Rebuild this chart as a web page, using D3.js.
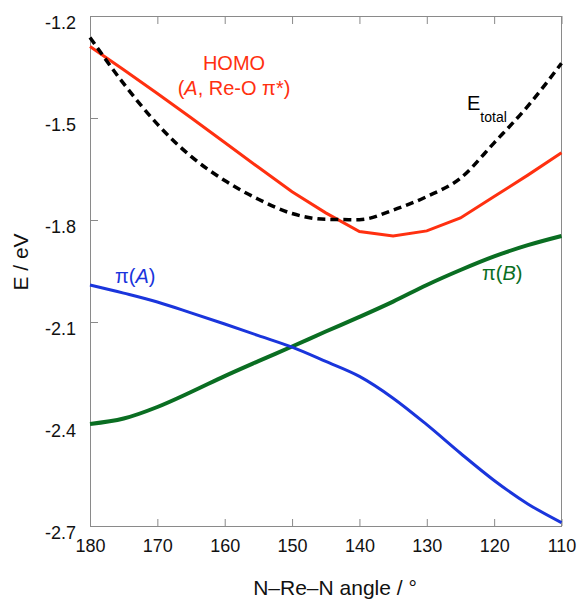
<!DOCTYPE html>
<html>
<head>
<meta charset="utf-8">
<script src="https://cdn.jsdelivr.net/npm/d3@7"></script>
<style>
  body { margin: 0; background: #fff; }
  svg text { font-family: "Liberation Sans", Arial, Helvetica, sans-serif; }
</style>
</head>
<body>
<div id="chart"></div>
<script>
// Données (angle N-Re-N en degrés, énergies en eV)
const angles = [180, 175, 170, 165, 160, 155, 150, 145, 140, 135, 130, 125, 120, 115, 110];
const homo   = [-1.290, -1.358, -1.428, -1.499, -1.572, -1.645, -1.717, -1.779, -1.834, -1.847, -1.832, -1.794, -1.731, -1.668, -1.602];
const eTotal = [-1.263, -1.399, -1.518, -1.613, -1.684, -1.739, -1.781, -1.798, -1.799, -1.771, -1.731, -1.677, -1.573, -1.465, -1.339];
const piA    = [-1.991, -2.015, -2.041, -2.073, -2.106, -2.140, -2.174, -2.216, -2.260, -2.324, -2.402, -2.486, -2.566, -2.635, -2.690];
const piB    = [-2.400, -2.384, -2.350, -2.306, -2.259, -2.215, -2.172, -2.128, -2.085, -2.040, -1.991, -1.947, -1.907, -1.874, -1.847];

const xTicks = [180, 170, 160, 150, 140, 130, 120, 110];
const yTicks = [-1.2, -1.5, -1.8, -2.1, -2.4, -2.7];

const width = 579, height = 599;
const svg = d3.select("#chart").append("svg")
    .attr("width", width)
    .attr("height", height);

const x = d3.scaleLinear().domain([180, 110]).range([90, 561.5]);
const y = d3.scaleLinear().domain([-1.2, -2.7]).range([16, 526]);

const axisColor = "#8a8a8a";

// Axe du bas
const gx = svg.append("g")
    .attr("transform", `translate(0,${y(-2.7)})`)
    .call(d3.axisBottom(x).tickValues(xTicks).tickSizeInner(-7).tickSizeOuter(0).tickFormat(d => d));
gx.selectAll("text").attr("y", 0).attr("dy", 25.5);

// Axe du haut (graduations seulement)
const gxTop = svg.append("g")
    .attr("transform", `translate(0,${y(-1.2)})`)
    .call(d3.axisTop(x).tickValues(xTicks).tickSizeInner(-8).tickSizeOuter(0).tickFormat(""));

// Axe de gauche
const gy = svg.append("g")
    .attr("transform", `translate(${x(180)},0)`)
    .call(d3.axisLeft(y).tickValues(yTicks).tickSizeInner(-8).tickSizeOuter(0).tickPadding(14)
        .tickFormat(d => d.toFixed(1)));
gy.selectAll("text").attr("dy", 12);

// Axe de droite (ligne seulement)
svg.append("line")
    .attr("x1", x(110)).attr("x2", x(110))
    .attr("y1", y(-1.2)).attr("y2", y(-2.7))
    .attr("stroke", axisColor);

[gx, gxTop, gy].forEach(g => {
    g.selectAll(".domain, .tick line").attr("stroke", axisColor);
    g.selectAll("text").attr("fill", "#111").style("font-size", "18px");
});

// Courbes (HOMO en segments, les autres lissées)
const series = [
    { name: "piB", values: piB, color: "#0a6e22", w: 4, curve: d3.curveMonotoneX },
    { name: "piA", values: piA, color: "#1a35dc", w: 3, curve: d3.curveMonotoneX },
    { name: "homo", values: homo, color: "#ff3010", w: 3, curve: d3.curveLinear },
    { name: "etot", values: eTotal, color: "#000", w: 3.5, dash: "8,5", curve: d3.curveMonotoneX }
];

svg.append("g")
    .selectAll("path")
    .data(series)
    .enter().append("path")
    .attr("d", d => d3.line()
        .x((v, i) => x(angles[i]))
        .y(v => y(v))
        .curve(d.curve)(d.values))
    .attr("fill", "none")
    .attr("stroke", d => d.color)
    .attr("stroke-width", d => d.w)
    .attr("stroke-dasharray", d => d.dash || null);

// Étiquettes des courbes
const homoLabel = svg.append("text")
    .attr("x", 234).attr("y", 70)
    .attr("text-anchor", "middle")
    .attr("fill", "#ff3010")
    .style("font-size", "20px");
homoLabel.append("tspan").text("HOMO");

const homoLabel2 = svg.append("text")
    .attr("x", 234).attr("y", 95)
    .attr("text-anchor", "middle")
    .attr("fill", "#ff3010")
    .style("font-size", "20px");
homoLabel2.append("tspan").text("(");
homoLabel2.append("tspan").style("font-style", "italic").text("A");
homoLabel2.append("tspan").text(", Re-O π*)");

const eLabel = svg.append("text")
    .attr("x", 467).attr("y", 110)
    .attr("fill", "#000")
    .style("font-size", "20px");
eLabel.append("tspan").text("E");
eLabel.append("tspan").attr("dy", 12).style("font-size", "14px").text("total");

const piALabel = svg.append("text")
    .attr("x", 115).attr("y", 283)
    .attr("fill", "#1a35dc")
    .style("font-size", "20px");
piALabel.append("tspan").text("π(");
piALabel.append("tspan").style("font-style", "italic").text("A");
piALabel.append("tspan").text(")");

const piBLabel = svg.append("text")
    .attr("x", 482).attr("y", 280)
    .attr("fill", "#0a6e22")
    .style("font-size", "20px");
piBLabel.append("tspan").text("π(");
piBLabel.append("tspan").style("font-style", "italic").text("B");
piBLabel.append("tspan").text(")");

// Titres des axes
svg.append("text")
    .attr("transform", "translate(28,262) rotate(-90)")
    .attr("text-anchor", "middle")
    .attr("fill", "#111")
    .style("font-size", "21px")
    .text("E / eV");

svg.append("text")
    .attr("x", 335).attr("y", 595)
    .attr("text-anchor", "middle")
    .attr("fill", "#111")
    .style("font-size", "21px")
    .text("N–Re–N angle / °");
</script>
</body>
</html>
